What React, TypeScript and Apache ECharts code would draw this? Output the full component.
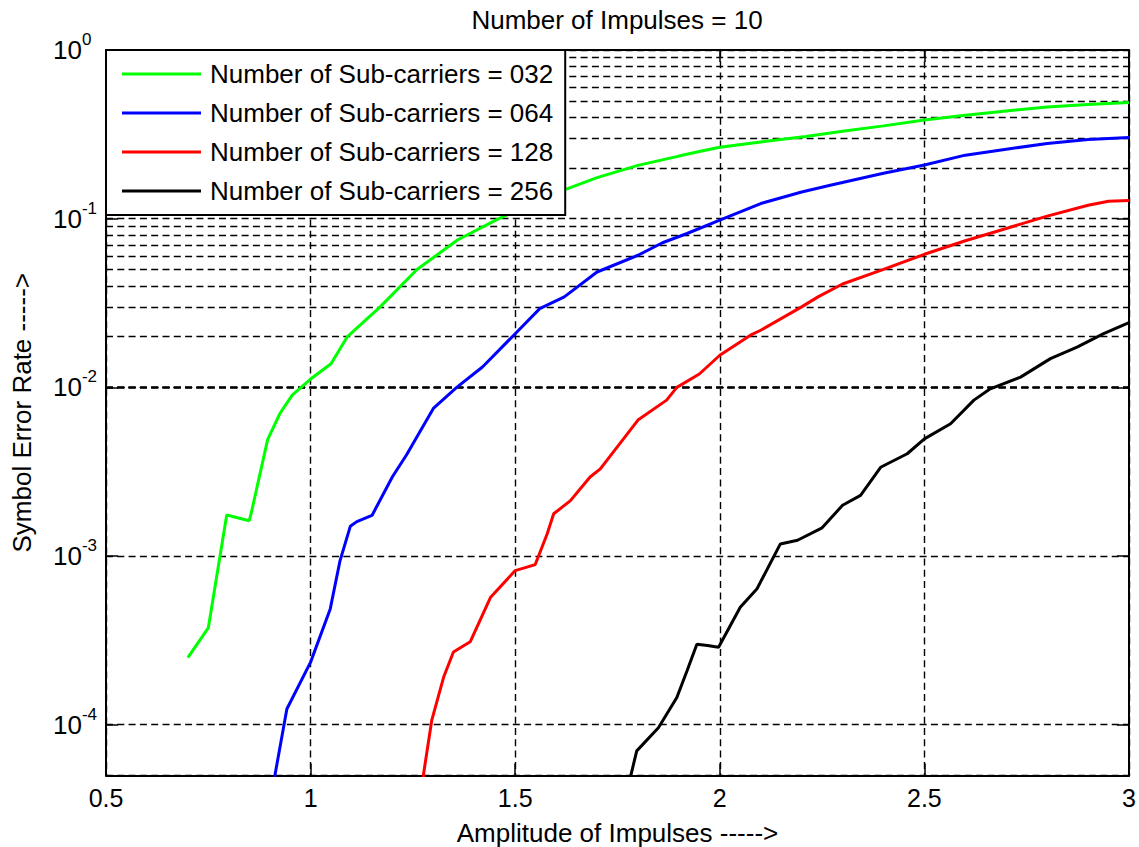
import React, { useEffect, useRef } from "react";
import * as echarts from "echarts";

const FONT = "'Liberation Sans', Arial, Helvetica, sans-serif";

const titleText = "Number of Impulses = 10";
const xAxisTitle = "Amplitude of Impulses ----->";
const yAxisTitle = "Symbol Error Rate ----->";

const seriesNames = [
  "Number of Sub-carriers = 032",
  "Number of Sub-carriers = 064",
  "Number of Sub-carriers = 128",
  "Number of Sub-carriers = 256",
];
const seriesColors = ["#00ff00", "#0000ff", "#ff0000", "#000000"];

const xMin = 0.5;
const xMax = 3;
const xStep = 0.5;
const yMin = 5e-5;
const yMax = 1;

// Number of Sub-carriers = 032
const sc032X = [0.70, 0.75, 0.795, 0.85, 0.855, 0.895, 0.925, 0.955, 1.00, 1.05, 1.09, 1.17, 1.26, 1.36, 1.46, 1.55, 1.62, 1.70, 1.80, 1.90, 1.95, 2.00, 2.10, 2.21, 2.30, 2.40, 2.50, 2.60, 2.70, 2.80, 2.90, 3.00];
const sc032Y = [2.5e-4, 3.75e-4, 1.75e-3, 1.62e-3, 1.8e-3, 4.9e-3, 7.0e-3, 9.0e-3, 1.12e-2, 1.38e-2, 2.0e-2, 3.0e-2, 5.0e-2, 7.5e-2, 0.10, 0.125, 0.148, 0.175, 0.207, 0.235, 0.25, 0.265, 0.285, 0.307, 0.33, 0.355, 0.385, 0.41, 0.435, 0.46, 0.475, 0.489];

// Number of Sub-carriers = 064
const sc064X = [0.91, 0.942, 1.00, 1.048, 1.072, 1.097, 1.113, 1.15, 1.20, 1.235, 1.26, 1.30, 1.357, 1.42, 1.50, 1.56, 1.62, 1.70, 1.80, 1.86, 1.92, 2.00, 2.10, 2.20, 2.27, 2.40, 2.50, 2.60, 2.70, 2.80, 2.90, 3.00];
const sc064Y = [4.6e-5, 1.24e-4, 2.35e-4, 4.86e-4, 9.4e-4, 1.5e-3, 1.6e-3, 1.74e-3, 2.95e-3, 4.0e-3, 5.1e-3, 7.5e-3, 1.0e-2, 1.32e-2, 2.08e-2, 2.93e-2, 3.44e-2, 4.83e-2, 6.07e-2, 7.2e-2, 8.17e-2, 9.8e-2, 0.123, 0.144, 0.158, 0.186, 0.208, 0.238, 0.258, 0.279, 0.295, 0.303];

// Number of Sub-carriers = 128
const sc128X = [1.272, 1.296, 1.325, 1.349, 1.39, 1.44, 1.50, 1.549, 1.578, 1.594, 1.635, 1.683, 1.708, 1.80, 1.87, 1.895, 1.95, 2.00, 2.075, 2.10, 2.20, 2.24, 2.30, 2.40, 2.50, 2.60, 2.70, 2.80, 2.90, 2.95, 3.00];
const sc128Y = [4.4e-5, 1.06e-4, 1.91e-4, 2.7e-4, 3.1e-4, 5.7e-4, 8.2e-4, 8.9e-4, 1.35e-3, 1.78e-3, 2.13e-3, 2.94e-3, 3.29e-3, 6.4e-3, 8.4e-3, 1.0e-2, 1.2e-2, 1.55e-2, 2.04e-2, 2.18e-2, 3.0e-2, 3.44e-2, 4.1e-2, 5.0e-2, 6.15e-2, 7.4e-2, 8.75e-2, 0.1035, 0.12, 0.127, 0.128];

// Number of Sub-carriers = 256
const sc256X = [1.778, 1.797, 1.85, 1.895, 1.92, 1.944, 1.97, 1.997, 2.05, 2.091, 2.148, 2.19, 2.25, 2.30, 2.344, 2.393, 2.458, 2.50, 2.564, 2.621, 2.661, 2.735, 2.808, 2.873, 2.938, 3.00];
const sc256Y = [4.5e-5, 7.0e-5, 9.6e-5, 1.45e-4, 2.09e-4, 3.0e-4, 2.95e-4, 2.88e-4, 4.97e-4, 6.4e-4, 1.18e-3, 1.24e-3, 1.47e-3, 2.0e-3, 2.29e-3, 3.36e-3, 4.04e-3, 4.95e-3, 6.08e-3, 8.4e-3, 9.8e-3, 1.15e-2, 1.48e-2, 1.73e-2, 2.08e-2, 2.42e-2];

const allX = [sc032X, sc064X, sc128X, sc256X];
const allY = [sc032Y, sc064Y, sc128Y, sc256Y];

// minor (2..9 x decade) grid lines of the log axis
const minorDecades = [1e-5, 1e-4, 1e-3, 1e-2, 1e-1];
const minorMultipliers = [2, 3, 4, 5, 6, 7, 8, 9];

const DASH = [7, 4.3];
const GRID_W = 1.4;

function buildOption() {
  const minorY: number[] = [];
  minorDecades.forEach((d) =>
    minorMultipliers.forEach((m) => {
      const v = m * d;
      if (v > yMin * 1.0001 && v < yMax) minorY.push(v);
    })
  );

  const dataSeries = seriesNames.map((name, i) => ({
    name,
    type: "line",
    xAxisIndex: 0,
    yAxisIndex: 0,
    data: allX[i].map((x, j) => [x, allY[i][j]]),
    showSymbol: false,
    symbol: "none",
    clip: true,
    z: 3,
    silent: true,
    color: seriesColors[i],
    lineStyle: { color: seriesColors[i], width: 3 },
  }));

  const gridSeries = {
    name: "minor-grid",
    type: "line",
    xAxisIndex: 0,
    yAxisIndex: 0,
    data: [],
    silent: true,
    z: 1,
    markLine: {
      silent: true,
      z: 1,
      symbol: ["none", "none"],
      label: { show: false },
      emphasis: { disabled: true },
      animation: false,
      lineStyle: { color: "#000", width: GRID_W, type: DASH, opacity: 1 },
      data: minorY.map((v) => ({ yAxis: v })),
    },
  };

  const textStyle = { color: "#000", fontFamily: FONT };

  const yFormatter = (v: number) => {
    const e = Math.log10(v);
    const r = Math.round(e);
    if (Math.abs(e - r) > 1e-6) return "";
    return `{b|10}{s|${r}}`;
  };

  return {
    animation: false,
    backgroundColor: "#ffffff",
    grid: {
      left: 106,
      right: 10,
      top: 50,
      bottom: 71.5,
      containLabel: false,
      outerBoundsMode: "none",
      show: false,
    },
    graphic: [
      {
        type: "text",
        x: 617,
        y: 20,
        silent: true,
        style: {
          text: titleText,
          align: "center",
          verticalAlign: "middle",
          fontSize: 26,
          fontFamily: FONT,
          fill: "#000",
        },
      },
    ],
    legend: {
      show: true,
      left: 106,
      top: 50,
      orient: "vertical",
      data: seriesNames,
      icon: "rect",
      itemWidth: 79,
      itemHeight: 3,
      itemGap: 9,
      padding: [9, 12, 9, 16],
      backgroundColor: "#ffffff",
      borderColor: "#000",
      borderWidth: 2,
      borderRadius: 0,
      selectedMode: false,
      z: 10,
      textStyle: {
        ...textStyle,
        fontSize: 26,
        lineHeight: 30,
        padding: [0, 0, 0, 4],
      },
    },
    xAxis: [
      {
        type: "value",
        position: "bottom",
        min: xMin,
        max: xMax,
        interval: xStep,
        axisLine: { show: true, onZero: false, lineStyle: { color: "#000", width: 2 } },
        axisTick: { show: true, inside: true, length: 12, lineStyle: { color: "#000", width: 1.5 } },
        axisLabel: { ...textStyle, fontSize: 25, margin: 10, formatter: (v: number) => String(v) },
        splitLine: { show: true, lineStyle: { color: "#000", width: GRID_W, type: DASH } },
        name: xAxisTitle,
        nameLocation: "middle",
        nameGap: 44,
        nameTextStyle: { ...textStyle, fontSize: 26 },
      },
      {
        type: "value",
        position: "top",
        min: xMin,
        max: xMax,
        interval: xStep,
        axisLine: { show: true, onZero: false, lineStyle: { color: "#000", width: 2 } },
        axisTick: { show: true, inside: true, length: 12, lineStyle: { color: "#000", width: 1.5 } },
        axisLabel: { show: false },
        splitLine: { show: false },
      },
    ],
    yAxis: [
      {
        type: "log",
        logBase: 10,
        position: "left",
        min: yMin,
        max: yMax,
        axisLine: { show: true, onZero: false, lineStyle: { color: "#000", width: 2 } },
        axisTick: { show: true, inside: true, length: 12, lineStyle: { color: "#000", width: 1.5 } },
        axisLabel: {
          ...textStyle,
          align: "left",
          margin: 53,
          formatter: yFormatter,
          rich: {
            b: { ...textStyle, fontSize: 26, lineHeight: 38, verticalAlign: "middle" },
            s: { ...textStyle, fontSize: 17, lineHeight: 17, verticalAlign: "top" },
          },
        },
        splitLine: { show: true, lineStyle: { color: "#000", width: GRID_W, type: DASH } },
        name: yAxisTitle,
        nameLocation: "middle",
        nameGap: 71,
        nameTextStyle: { ...textStyle, fontSize: 26 },
      },
      {
        type: "log",
        logBase: 10,
        position: "right",
        min: yMin,
        max: yMax,
        axisLine: { show: true, onZero: false, lineStyle: { color: "#000", width: 2 } },
        axisTick: { show: true, inside: true, length: 12, lineStyle: { color: "#000", width: 1.5 } },
        axisLabel: { show: false },
        splitLine: { show: false },
      },
    ],
    series: [gridSeries, ...dataSeries],
  };
}

export default function App() {
  const ref = useRef<HTMLDivElement>(null);
  useEffect(() => {
    if (!ref.current) return;
    const chart = echarts.init(ref.current, null, { renderer: "svg" });
    chart.setOption(buildOption() as any);
    return () => {
      chart.dispose();
    };
  }, []);
  return (
    <div
      ref={ref}
      style={{
        position: "fixed",
        left: 0,
        top: 0,
        width: 1139,
        height: 847,
        background: "#ffffff",
      }}
    />
  );
}
